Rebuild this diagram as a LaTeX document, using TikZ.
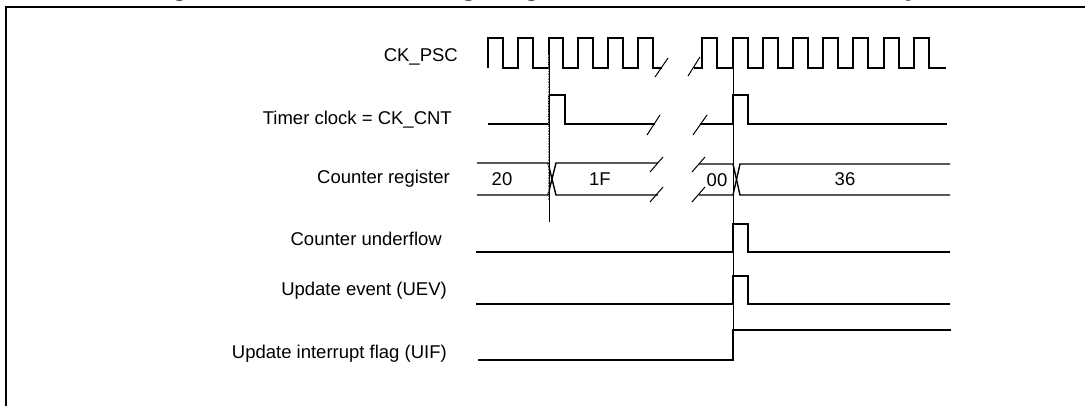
\documentclass[tikz,border=0pt]{standalone}
\usepackage{fontspec}
\setmainfont{Liberation Sans}
\begin{document}
\begin{tikzpicture}[x=1pt,y=-1pt,
  sig/.style={line width=1.4pt, line join=miter},
  brk/.style={line width=1pt},
  marker/.style={line width=0.7pt},
  lbl/.style={anchor=east, inner sep=0pt, font=\fontsize{18.5}{20}\selectfont},
  val/.style={inner sep=0pt, font=\fontsize{18.5}{20}\selectfont}]
\useasboundingbox (0,0) rectangle (1085,406);
\clip (0,0) rectangle (1085,406);
\node[anchor=base, inner sep=0pt, font=\bfseries\fontsize{27}{30}\selectfont] (title) at (545,-4) {Figure 89. Counter timing diagram, internal clock divided by 1};
\draw[line width=1.5pt] (6,406) -- (6,7) -- (1085,7);
% labels
\node[lbl] (lpsc) at (458,57) {CK\_PSC};
\node[lbl] (lcnt) at (452,120) {Timer clock = CK\_CNT};
\node[lbl] (lreg) at (450,179) {Counter register};
\node[lbl] (lunf) at (442,239) {Counter underflow};
\node[lbl] (luev) at (447,291) {Update event (UEV)};
\node[lbl] (luif) at (447,354) {Update interrupt flag (UIF)};
% CK_PSC
\draw[sig] (488,68)--(488,38)--(503,38)--(503,68)--(518,68)--(518,38)--(533,38)--(533,68)--(549,68)--(549,38)--(563,38)--(563,68)--(578,68)--(578,38)--(593,38)--(593,68)--(608,68)--(608,38)--(623,38)--(623,68)--(638,68)--(638,38)--(653,38)--(653,68)--(662,68);
\draw[brk] (655,77)--(668,58);
\draw[brk] (688,76)--(700,57);
\draw[sig] (694,68)--(702,68)--(702,38)--(717,38)--(717,68)--(733,68)--(733,38)--(748,38)--(748,68)--(763,68)--(763,38)--(778,38)--(778,68)--(793,68)--(793,38)--(808,38)--(808,68)--(823,68)--(823,38)--(838,38)--(838,68)--(853,68)--(853,38)--(868,38)--(868,68)--(884,68)--(884,38)--(899,38)--(899,68)--(914,68)--(914,38)--(929,38)--(929,68)--(946,68);
% Timer clock
\draw[sig] (488,124)--(549,124)--(549,95)--(565,95)--(565,124)--(655,124);
\draw[brk] (647,135)--(660,115);
\draw[brk] (693,135)--(707,115);
\draw[sig] (700,124)--(733,124)--(733,95)--(748,95)--(748,124)--(947,124);
% Counter register
\draw[sig] (477,163)--(548,163)--(556,195)--(658,195);
\draw[sig] (477,195)--(548,195)--(556,163)--(658,163);
\draw[brk] (650,172)--(663,157);
\draw[brk] (650,202)--(663,187);
\draw[brk] (692,172)--(705,157);
\draw[brk] (692,202)--(705,187);
\draw[sig] (699,164)--(733,164)--(740,195)--(950,195);
\draw[sig] (699,195)--(733,195)--(740,164)--(950,164);
\node[val] (v20) at (502,179) {20};
\node[val] (v1f) at (600,179) {1F};
\node[val] (v00) at (717,180) {00};
\node[val] (v36) at (845,179) {36};
% Underflow, UEV, UIF
\draw[sig] (476,252)--(733,252)--(733,224)--(748,224)--(748,252)--(950,252);
\draw[sig] (476,304)--(733,304)--(733,276)--(748,276)--(748,304)--(950,304);
\draw[sig] (478,360)--(733,360)--(733,330)--(951,330);
% markers
\draw[line width=1.6pt, densely dotted, gray] (549,55)--(549,200);
\draw[marker] (549,55)--(549,222);
\draw[marker] (733,53)--(733,360);
\end{tikzpicture}
\end{document}
